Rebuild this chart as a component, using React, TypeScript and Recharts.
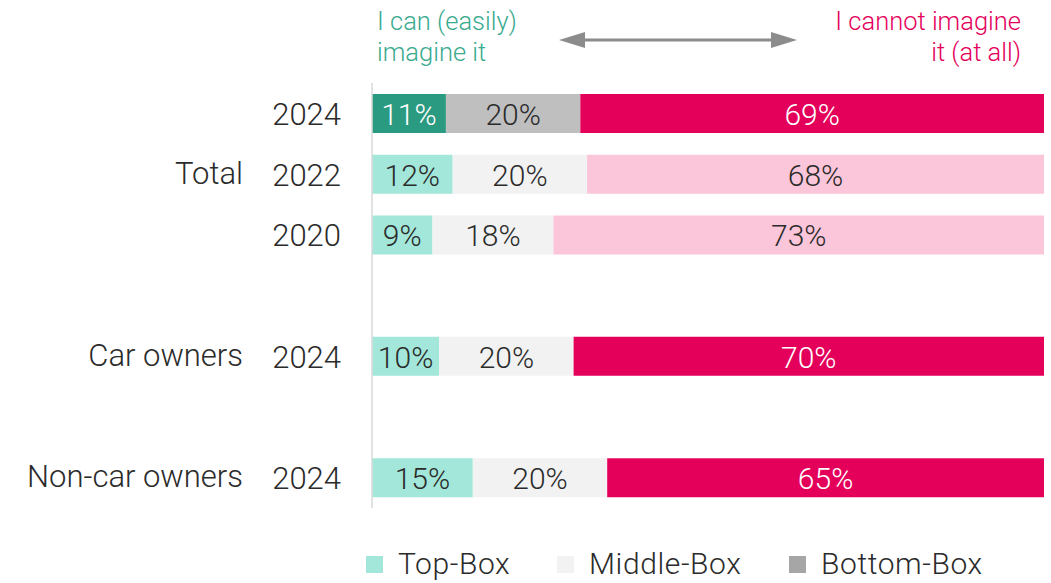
import React from 'react';
import { BarChart, Bar, XAxis, YAxis, Cell, LabelList } from 'recharts';

// ---- data ----
const rowKeys = ['t2024', 't2022', 't2020', 'gap1', 'c2024', 'gap2', 'n2024'];
const years = ['2024', '2022', '2020', '', '2024', '', '2024'];
const groups = ['', 'Total', '', '', 'Car owners', '', 'Non-car owners'];
const topBox = [11, 12, 9, null, 10, null, 15];
const middleBox = [20, 20, 18, null, 20, null, 20];
const bottomBox = [69, 68, 73, null, 70, null, 65];
const legendLabels = ['Top-Box', 'Middle-Box', 'Bottom-Box'];
const headerLeft = ['I can (easily)', 'imagine it'];
const headerRight = ['I cannot imagine', 'it (at all)'];

// ---- styles ----
const FONT = 'Roboto, "Open Sans", sans-serif';
const TEXT = '#2b2b2b';
const rowMode: Record<string, string> = {
  t2024: 'highlight',
  t2022: 'faded',
  t2020: 'faded',
  c2024: 'normal',
  n2024: 'normal',
};
const palette: Record<string, { top: string; mid: string; bot: string }> = {
  highlight: { top: '#2A9A80', mid: '#BFBFBF', bot: '#E4005A' },
  faded: { top: '#A2E7D9', mid: '#F2F2F2', bot: '#FCC6DA' },
  normal: { top: '#A2E7D9', mid: '#F2F2F2', bot: '#E4005A' },
};
const darkFills = ['#2A9A80', '#E4005A'];
const legendColors = ['#A2E7D9', '#F2F2F2', '#A6A6A6'];
const legendX = [366, 557, 789];

const data = rowKeys.map((key, i) => ({
  key,
  top: topBox[i],
  mid: middleBox[i],
  bot: bottomBox[i],
}));

const seriesValues = { top: topBox, mid: middleBox, bot: bottomBox };

const colorForKey = (key: string, part: 'top' | 'mid' | 'bot') => {
  const mode = rowMode[key];
  return mode ? palette[mode][part] : 'transparent';
};

const makeLabel = (part: 'top' | 'mid' | 'bot') => {
  // label entries skip rows without a value, so map index over the non-empty rows
  const labelKeys = rowKeys.filter((_, i) => seriesValues[part][i] != null);
  return (props: any) => {
    const { x, y, width, height, value, index, payload } = props;
    if (value == null) return null;
    const key = payload && payload.key ? payload.key : labelKeys[index];
    const fill = darkFills.includes(colorForKey(key, part)) ? '#FFFFFF' : TEXT;
    return (
      <text
        x={Number(x) + Number(width) / 2}
        y={Number(y) + Number(height) / 2 + 1}
        textAnchor="middle"
        dominantBaseline="central"
        fill={fill}
        fontFamily={FONT}
        fontWeight={300}
        fontSize={30}
      >
        {value}%
      </text>
    );
  };
};

const YTick = (props: any) => {
  const { y, payload } = props;
  const i = rowKeys.indexOf(payload.value);
  return (
    <g>
      {years[i] ? (
        <text x={341} y={y + 1} textAnchor="end" dominantBaseline="central" fill={TEXT}
          fontFamily={FONT} fontWeight={300} fontSize={31}>
          {years[i]}
        </text>
      ) : null}
      {groups[i] ? (
        <text x={243} y={y - 1} textAnchor="end" dominantBaseline="central" fill={TEXT}
          fontFamily={FONT} fontWeight={300} fontSize={31}>
          {groups[i]}
        </text>
      ) : null}
    </g>
  );
};

export default function App() {
  return (
    <div style={{ position: 'absolute', left: 0, top: 0, width: 1051, height: 583, background: '#fff', overflow: 'hidden' }}>
      <div style={{ position: 'absolute', left: 377, top: 6, fontFamily: FONT, fontWeight: 300, fontSize: 25.5, lineHeight: '31px', color: '#3AAA8F', whiteSpace: 'nowrap' }}>
        {headerLeft.map((t) => <div key={t}>{t}</div>)}
      </div>
      <div style={{ position: 'absolute', right: 30, top: 6, textAlign: 'right', fontFamily: FONT, fontWeight: 300, fontSize: 25.5, lineHeight: '31px', color: '#E4005A', whiteSpace: 'nowrap' }}>
        {headerRight.map((t) => <div key={t}>{t}</div>)}
      </div>
      <svg style={{ position: 'absolute', left: 0, top: 0 }} width={1051} height={80}>
        <line x1={580} y1={40} x2={776} y2={40} stroke="#8C8C8C" strokeWidth={3} />
        <polygon points="559,40 585,32 585,48" fill="#8C8C8C" />
        <polygon points="797,40 771,32 771,48" fill="#8C8C8C" />
      </svg>
      <div style={{ position: 'absolute', left: 0, top: 0 }}>
        <BarChart
          width={1051}
          height={583}
          data={data}
          layout="vertical"
          margin={{ top: 83, right: 7, bottom: 75, left: 0 }}
          barCategoryGap={0}
        >
          <XAxis type="number" domain={[0, 100]} hide />
          <YAxis
            type="category"
            dataKey="key"
            width={372}
            axisLine={{ stroke: '#D9D9D9', strokeWidth: 1.5 }}
            tickLine={false}
            tick={YTick}
            interval={0}
          />
          <Bar dataKey="top" stackId="a" barSize={39} isAnimationActive={false}>
            {data.map((d) => <Cell key={d.key} fill={colorForKey(d.key, 'top')} />)}
            <LabelList dataKey="top" content={makeLabel('top')} />
          </Bar>
          <Bar dataKey="mid" stackId="a" barSize={39} isAnimationActive={false}>
            {data.map((d) => <Cell key={d.key} fill={colorForKey(d.key, 'mid')} />)}
            <LabelList dataKey="mid" content={makeLabel('mid')} />
          </Bar>
          <Bar dataKey="bot" stackId="a" barSize={39} isAnimationActive={false}>
            {data.map((d) => <Cell key={d.key} fill={colorForKey(d.key, 'bot')} />)}
            <LabelList dataKey="bot" content={makeLabel('bot')} />
          </Bar>
        </BarChart>
      </div>
      {legendLabels.map((l, i) => (
        <div key={l} style={{ position: 'absolute', left: legendX[i], top: 548, height: 32, lineHeight: '32px', display: 'flex', alignItems: 'center', fontFamily: FONT, fontWeight: 300, fontSize: 30, letterSpacing: 0.6, color: TEXT, whiteSpace: 'nowrap' }}>
          <span style={{ display: 'inline-block', width: 17, height: 17, background: legendColors[i], marginRight: 15 }} />
          <span>{l}</span>
        </div>
      ))}
    </div>
  );
}
